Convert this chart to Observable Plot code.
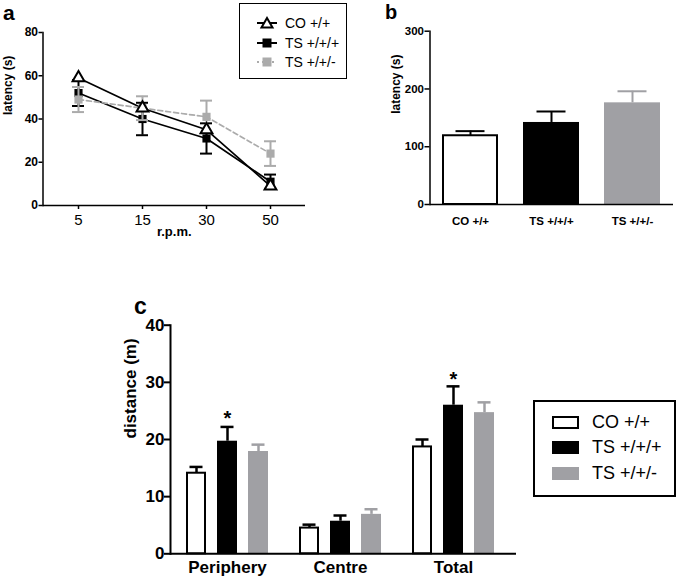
<!DOCTYPE html>
<html>
<head>
<meta charset="utf-8">
<script src="https://cdn.jsdelivr.net/npm/d3@7"></script>
<script src="https://cdn.jsdelivr.net/npm/@observablehq/plot@0.6"></script>
<style>
  html, body { margin: 0; padding: 0; background: white; }
  #root { position: relative; width: 678px; height: 582px; overflow: hidden; font-family: "Liberation Sans", Arial, sans-serif; }
  #root > svg { position: absolute; }
  .panel-letter { position: absolute; font-weight: bold; line-height: 1.2; }
  .legend { position: absolute; box-sizing: border-box; background: white; }
  .legend .row { position: absolute; left: 0; display: flex; align-items: center; white-space: nowrap; height: 20px; }
</style>
</head>
<body>
<div id="root"></div>
<script>
// ---------- data ----------
const genotypes = ["CO +/+", "TS +/+/+", "TS +/+/-"];

// panel a: latency vs r.p.m.
const rpm = ["5", "15", "30", "50"];
const aCO = [59, 45, 35, 9];
const aCOerr = [1, 1.5, 2.5, 1];
const aTS = [52, 40, 31, 11];
const aTSerr = [6, 7.5, 7, 3.3];
const aTSm = [49, 45, 41, 24];
const aTSmErr = [5.8, 5.5, 7.5, 5.7];
const aTicks = [0, 20, 40, 60, 80];

// panel b: latency per genotype
const bMean = [119, 142, 176];
const bErr = [8, 19, 20];
const bTicks = [0, 100, 200, 300];

// panel c: distance per zone and genotype
const zones = ["Periphery", "Centre", "Total"];
const cCO = [14.1, 4.5, 18.7];
const cCOerr = [1.1, 0.6, 1.3];
const cTS = [19.7, 5.7, 26.0];
const cTSerr = [2.5, 1.0, 3.3];
const cTSm = [17.9, 6.9, 24.7];
const cTSmErr = [1.2, 0.9, 1.8];
const cTicks = [0, 10, 20, 30, 40];
const starZones = ["Periphery", "Total"];
const starY = [23.6, 30.5];

const BLACK = "#000";
const GRAY = "#a0a0a4";
const LGRAY = "#ababab";
const FONT = "Liberation Sans, Arial, sans-serif";
const root = document.getElementById("root");

function place(el, left, top) { el.style.left = left + "px"; el.style.top = top + "px"; root.appendChild(el); return el; }
function letter(t, left, top, size) {
  const d = document.createElement("div");
  d.className = "panel-letter"; d.textContent = t; d.style.fontSize = size + "px";
  return place(d, left, top);
}

// ---------- panel a ----------
const aRows = (vals, errs) => rpm.map((r, i) => ({rpm: r, v: vals[i], lo: vals[i] - errs[i], hi: vals[i] + errs[i]}));
const aDataCO = aRows(aCO, aCOerr);
const aDataTS = aRows(aTS, aTSerr);
const aDataTSm = aRows(aTSm, aTSmErr);

const capA = (data, key, color) => Plot.ruleY(data, {x1: "rpm", x2: "rpm", y: key, stroke: color, strokeWidth: 2, insetLeft: -6, insetRight: -6});

const plotA = Plot.plot({
  width: 340, height: 250,
  marginLeft: 42.5, marginRight: 35, marginTop: 32, marginBottom: 45,
  style: {background: "transparent", fontFamily: FONT, color: "#000", overflow: "visible"},
  x: {type: "point", domain: rpm, padding: 0.53},
  y: {domain: [0, 80]},
  marks: [
    Plot.ruleX(aDataTS, {x: "rpm", y1: "lo", y2: "hi", stroke: BLACK, strokeWidth: 2}),
    capA(aDataTS, "lo", BLACK), capA(aDataTS, "hi", BLACK),
    Plot.ruleX(aDataCO, {x: "rpm", y1: "lo", y2: "hi", stroke: BLACK, strokeWidth: 2}),
    Plot.line(aDataTS, {x: "rpm", y: "v", stroke: BLACK, strokeWidth: 1.7}),
    Plot.line(aDataCO, {x: "rpm", y: "v", stroke: BLACK, strokeWidth: 1.7}),
    Plot.dot(aDataTS, {x: "rpm", y: "v", symbol: "square", r: 4.6, fill: BLACK}),
    Plot.ruleX(aDataTSm, {x: "rpm", y1: "lo", y2: "hi", stroke: LGRAY, strokeWidth: 2}),
    capA(aDataTSm, "lo", LGRAY), capA(aDataTSm, "hi", LGRAY),
    Plot.line(aDataTSm, {x: "rpm", y: "v", stroke: LGRAY, strokeWidth: 1.7, strokeDasharray: "5,3"}),
    Plot.dot(aDataTSm, {x: "rpm", y: "v", symbol: "square", r: 4.6, fill: LGRAY}),
    Plot.dot(aDataCO, {x: "rpm", y: "v", symbol: "triangle", r: 4.4, fill: "white", stroke: BLACK, strokeWidth: 2}),
    Plot.frame({anchor: "left", stroke: BLACK, strokeWidth: 1.5}),
    Plot.ruleY([0], {stroke: BLACK, strokeWidth: 1.5}),
    Plot.axisY({ticks: aTicks, tickSize: 4, tickPadding: 1, strokeWidth: 1.5, fontSize: 12, fontWeight: "bold", label: null}),
    Plot.axisX({tickSize: 4, tickPadding: 5, strokeWidth: 1.5, fontSize: 15, label: null}),
    Plot.text(["latency (s)"], {frameAnchor: "left", rotate: -90, dx: -35, dy: -4, fontSize: 12, fontWeight: "bold"}),
    Plot.text(["r.p.m."], {frameAnchor: "bottom", dy: 30, fontSize: 13, fontWeight: "bold"})
  ]
});
place(plotA, 0, 0);
letter("a", 3, 0, 21);

// legend a
(function() {
  const lg = document.createElement("div");
  lg.className = "legend";
  Object.assign(lg.style, {width: "108px", height: "76px", border: "1.5px solid #000"});
  const items = [
    {label: genotypes[0], line: BLACK, dash: null, shape: "tri", color: BLACK},
    {label: genotypes[1], line: BLACK, dash: null, shape: "sq", color: BLACK},
    {label: genotypes[2], line: LGRAY, dash: "2,3", shape: "sq", color: LGRAY}
  ];
  const ys = [19, 39, 58];
  items.forEach((it, i) => {
    const row = document.createElement("div");
    row.className = "row";
    row.style.top = (ys[i] - 10) + "px";
    row.style.left = "16px";
    const ns = "http://www.w3.org/2000/svg";
    const s = document.createElementNS(ns, "svg");
    s.setAttribute("width", "22"); s.setAttribute("height", "14");
    s.style.position = "static";
    const l = document.createElementNS(ns, "line");
    l.setAttribute("x1", "1"); l.setAttribute("x2", "21"); l.setAttribute("y1", "7"); l.setAttribute("y2", "7");
    l.setAttribute("stroke", it.line); l.setAttribute("stroke-width", "2");
    if (it.dash) l.setAttribute("stroke-dasharray", it.dash);
    s.appendChild(l);
    if (it.shape === "tri") {
      const p = document.createElementNS(ns, "path");
      p.setAttribute("d", "M11,2 L16.5,11.5 L5.5,11.5 Z");
      p.setAttribute("fill", "white"); p.setAttribute("stroke", BLACK); p.setAttribute("stroke-width", "2");
      s.appendChild(p);
    } else {
      const r = document.createElementNS(ns, "rect");
      r.setAttribute("x", "6.5"); r.setAttribute("y", "2.5"); r.setAttribute("width", "9"); r.setAttribute("height", "9");
      r.setAttribute("fill", it.color);
      s.appendChild(r);
    }
    row.appendChild(s);
    const t = document.createElement("span");
    t.textContent = it.label;
    Object.assign(t.style, {fontSize: "14px", marginLeft: "7px"});
    row.appendChild(t);
    lg.appendChild(row);
  });
  place(lg, 239, 3);
})();

// ---------- panel b ----------
const bData = genotypes.map((g, i) => ({g, v: bMean[i], hi: bMean[i] + bErr[i]}));
const bColor = {[genotypes[0]]: BLACK, [genotypes[1]]: BLACK, [genotypes[2]]: GRAY};
const plotB = Plot.plot({
  width: 338, height: 250,
  marginLeft: 89.5, marginRight: 5, marginTop: 30.7, marginBottom: 46,
  style: {background: "transparent", fontFamily: FONT, color: "#000", overflow: "visible"},
  x: {type: "band", domain: genotypes, paddingInner: 0.313, paddingOuter: 0.153},
  y: {domain: [0, 300]},
  marks: [
    Plot.ruleX(bData, {x: "g", y1: "v", y2: "hi", stroke: d => bColor[d.g], strokeWidth: 2}),
    Plot.tickY(bData, {x: "g", y: "hi", stroke: d => bColor[d.g], strokeWidth: 2, insetLeft: 13.5, insetRight: 13.5}),
    Plot.barY(bData.filter(d => d.g === genotypes[0]), {x: "g", y: "v", fill: "white", stroke: BLACK, strokeWidth: 2, insetLeft: 1, insetRight: 1}),
    Plot.barY(bData.filter(d => d.g === genotypes[1]), {x: "g", y: "v", fill: BLACK}),
    Plot.barY(bData.filter(d => d.g === genotypes[2]), {x: "g", y: "v", fill: GRAY}),
    Plot.frame({anchor: "left", stroke: BLACK, strokeWidth: 1.5}),
    Plot.ruleY([0], {stroke: BLACK, strokeWidth: 1.5}),
    Plot.axisY({ticks: bTicks, tickSize: 5, tickPadding: 1, strokeWidth: 1.5, fontSize: 11.5, fontWeight: "bold", label: null}),
    Plot.axisX({tickSize: 0, tickPadding: 12, fontSize: 11.5, fontWeight: "bold", label: null}),
    Plot.text(["latency (s)"], {frameAnchor: "left", rotate: -90, dx: -34, dy: -4, fontSize: 12, fontWeight: "bold"})
  ]
});
place(plotB, 340, 0);
letter("b", 385, 0, 20);

// ---------- panel c ----------
const cSeries = [
  {g: genotypes[0], vals: cCO, errs: cCOerr, dx: -31, inL: 5, inR: 67, capL: 8.5, capR: 70.5, fill: "white", color: BLACK},
  {g: genotypes[1], vals: cTS, errs: cTSerr, dx: 0, inL: 36, inR: 36, capL: 39.5, capR: 39.5, fill: BLACK, color: BLACK},
  {g: genotypes[2], vals: cTSm, errs: cTSmErr, dx: 31, inL: 67, inR: 5, capL: 70.5, capR: 8.5, fill: GRAY, color: GRAY}
];
const cMarks = [];
cSeries.forEach(s => {
  const data = zones.map((z, i) => ({z, v: s.vals[i], hi: s.vals[i] + s.errs[i]}));
  cMarks.push(Plot.ruleX(data, {x: "z", y1: "v", y2: "hi", dx: s.dx, stroke: s.color, strokeWidth: 2.5}));
  cMarks.push(Plot.tickY(data, {x: "z", y: "hi", stroke: s.color, strokeWidth: 2.5, insetLeft: s.capL, insetRight: s.capR}));
  if (s.fill === "white") {
    cMarks.push(Plot.barY(data, {x: "z", y: "v", fill: "white", stroke: BLACK, strokeWidth: 2, insetLeft: s.inL + 1, insetRight: s.inR + 1}));
  } else {
    cMarks.push(Plot.barY(data, {x: "z", y: "v", fill: s.fill, insetLeft: s.inL, insetRight: s.inR}));
  }
});
const starData = starZones.map((z, i) => ({z, y: starY[i]}));
const plotC = Plot.plot({
  width: 530, height: 292,
  marginLeft: 170, marginRight: 19, marginTop: 34.7, marginBottom: 28.7,
  style: {background: "transparent", fontFamily: FONT, color: "#000", overflow: "visible"},
  x: {type: "band", domain: zones, paddingInner: 0.184, paddingOuter: 0.0877},
  y: {domain: [0, 40]},
  marks: [
    ...cMarks,
    Plot.text(starData, {x: "z", y: "y", text: () => "*", fontSize: 20, fontWeight: "bold", lineAnchor: "middle"}),
    Plot.frame({anchor: "left", stroke: BLACK, strokeWidth: 2}),
    Plot.ruleY([0], {stroke: BLACK, strokeWidth: 2, insetRight: -5}),
    Plot.axisY({ticks: cTicks, tickSize: 6, tickPadding: 0, strokeWidth: 2, fontSize: 17, fontWeight: "bold", label: null}),
    Plot.axisX({tickSize: 0, tickPadding: 7, fontSize: 17, fontWeight: "bold", label: null}),
    Plot.text(["distance (m)"], {frameAnchor: "left", rotate: -90, dx: -40, dy: -1, fontSize: 17, fontWeight: "bold"})
  ]
});
place(plotC, 0, 290);
letter("c", 134, 293, 23);

// legend c
(function() {
  const lg = document.createElement("div");
  lg.className = "legend";
  Object.assign(lg.style, {width: "143px", height: "97px", border: "2px solid #000"});
  const ys = [20, 45, 71];
  cSeries.forEach((s, i) => {
    const row = document.createElement("div");
    row.className = "row";
    row.style.top = (ys[i] - 10) + "px";
    row.style.left = "17px";
    const sw = document.createElement("div");
    Object.assign(sw.style, {width: "27px", height: "13px", boxSizing: "border-box", background: s.fill,
      border: s.fill === "white" ? "2px solid #000" : "none"});
    row.appendChild(sw);
    const t = document.createElement("span");
    t.textContent = s.g;
    Object.assign(t.style, {fontSize: "18px", marginLeft: "13px"});
    row.appendChild(t);
    lg.appendChild(row);
  });
  place(lg, 533, 400);
})();
</script>
</body>
</html>
